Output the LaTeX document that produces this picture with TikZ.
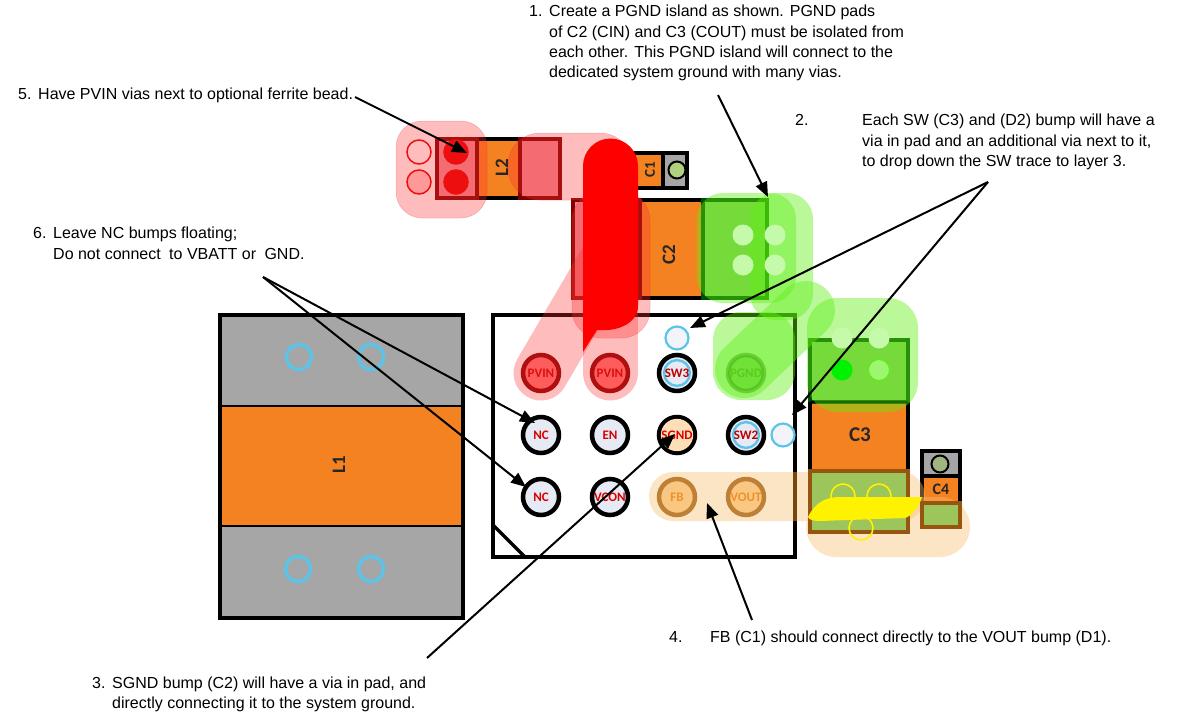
\documentclass[tikz,border=0pt]{standalone}
\usepackage{fontspec}
\setmainfont{Liberation Sans}
\newfontfamily\padfont{Carlito}
\usetikzlibrary{arrows.meta}
\definecolor{chiporange}{HTML}{F58220}
\definecolor{chipgray}{HTML}{A6A6A6}
\definecolor{via}{HTML}{5CC4E8}
\definecolor{bumpfill}{HTML}{E6EAF4}
\definecolor{ovred}{HTML}{FF3030}
\definecolor{ovgreen}{HTML}{5CF010}
\definecolor{ovtan}{HTML}{F9C070}
\definecolor{brownpad}{HTML}{96560F}
\definecolor{grnpad}{HTML}{9CC55C}
\definecolor{pgndpad}{HTML}{8ACB5A}
\definecolor{redpad}{HTML}{F08890}
\newcommand{\hang}[1]{\makebox[20pt][l]{#1}}
\tikzset{
  note/.style={align=left,anchor=north west,inner sep=0pt,font=\fontsize{16}{20.3}\selectfont},
  chipo/.style={draw=black,line width=3.5pt,fill=chiporange},
  chipg/.style={draw=black,line width=3.5pt,fill=chipgray},
  thin sep/.style={draw=black,line width=2pt},
  chiplabel/.style={font=\padfont\bfseries\fontsize{19}{19}\selectfont,text=black!85,inner sep=0pt},
  chipsmall/.style={chiplabel,font=\padfont\bfseries\fontsize{15}{15}\selectfont},
  bump/.style={circle,minimum size=36pt,inner sep=0pt,draw=black,line width=4.5pt,fill=bumpfill,text=red!85!black,font=\padfont\bfseries\fontsize{13}{13}\selectfont},
  pvinbump/.style={bump,draw=red!55!black,fill=red!55!white,text=red!80!black},
  fbbump/.style={bump,draw=brownpad,fill=ovtan!80!white,text=orange!90!black},
  inner bump/.style={circle,minimum size=25pt,inner sep=0pt,draw=via,line width=2.4pt,fill=bumpfill,text=red!75!black,font=\padfont\bfseries\fontsize{13}{13}\selectfont},
  viac/.style={circle,minimum size=23pt,inner sep=0pt,draw=via,line width=2.2pt,fill=bumpfill!50!white},
  viab/.style={viac,minimum size=25pt,line width=3.5pt,fill=chipgray},
  viag/.style={circle,minimum size=21pt,inner sep=0pt,draw=none,fill=ovgreen!35!white},
  viar/.style={circle,minimum size=24pt,inner sep=0pt,draw=red!90!black,line width=1.5pt},
  viay/.style={circle,minimum size=24pt,inner sep=0pt,draw=yellow,line width=1.6pt},
  ovr/.style={fill=ovred,fill opacity=.32,draw=ovred!80!black,draw opacity=.25,line width=.5pt},
  ovg/.style={fill=ovgreen,fill opacity=.42},
  ovt/.style={fill=ovtan,fill opacity=.4},
  capr/.style={draw=ovred,draw opacity=.32,line cap=round,line width=55pt},
  capg/.style={draw=ovgreen,draw opacity=.42,line cap=round,line width=58pt},
  arr/.style={draw=black,line width=2pt,-{Triangle[length=15pt,width=12pt]}},
}
\begin{document}
\begin{tikzpicture}[x=1pt,y=-1pt]
\useasboundingbox (0,0) rectangle (1183,715);
\fill[white] (0,0) rectangle (1183,715);
% L1
\path[chipg] (220,315) rectangle (463,618);
\path[fill=chiporange] (220,406) rectangle (463,526);
\draw[thin sep] (220,406) -- (463,406) (220,526) -- (463,526);
\draw[black,line width=3.5pt] (220,315) rectangle (463,618);
\node[chiplabel,rotate=90] (l1) at (339,465) {L1};
\node[viab] (v1) at (299,357) {};
\node[viab] (v2) at (371,357) {};
\node[viab] (v3) at (298,569) {};
\node[viab] (v4) at (371,569) {};
% IC
\draw[black,line width=3.5pt,fill=white] (493,315) rectangle (795,557);
\draw[black,line width=3.5pt] (493,525) -- (525,557);
% C1
\path[chipo] (633,153) rectangle (687,188);
\path[fill=chipgray] (663,153) rectangle (687,188);
\draw[black,line width=3.5pt] (633,153) rectangle (687,188) (663,153) -- (663,188);
\node[chipsmall,rotate=90] (c1) at (650,170) {C1};
\node[circle,minimum size=17pt,inner sep=0pt,draw=black,line width=2pt,fill=grnpad!80!white] (c1v) at (677,170) {};
% C2
\path[chipo] (573,200) rectangle (767,298);
\node[chiplabel,rotate=90] (c2) at (669,255) {C2};
% C3
\path[chipo] (810,340) rectangle (908,532);
\node[chiplabel,font=\padfont\bfseries\fontsize{21}{21}\selectfont] (c3) at (860,435) {C3};
% C4
\path[chipo] (922,451) rectangle (960,527);
\path[fill=chipgray] (922,451) rectangle (960,476);
\draw[black,line width=3.5pt] (922,451) rectangle (960,527) (922,476) -- (960,476);
\node[chipsmall,font=\padfont\bfseries\fontsize{16}{16}\selectfont] (c4) at (941,489) {C4};
\node[circle,minimum size=17pt,inner sep=0pt,draw=black,line width=2pt,fill=grnpad!50!chipgray] (c4v) at (940,464) {};
% L2
\path[chipo] (437,139) rectangle (560,198);
\node[chiplabel,rotate=90] (l2) at (502,168) {L2};
% pads
\draw[draw=red!50!black,line width=3.5pt,fill=redpad] (437,139) rectangle (477,198);
\draw[draw=red!50!black,line width=3.5pt,fill=redpad] (520,139) rectangle (560,198);
\draw[draw=red!50!black,line width=3.5pt,fill=redpad] (573,200) rectangle (640,298);
\draw[draw=green!30!black,line width=3.5pt,fill=pgndpad] (703,200) rectangle (767,298);
\draw[draw=green!30!black,line width=3.5pt,fill=pgndpad] (810,340) rectangle (908,402);
\draw[black,line width=2pt] (810,402) -- (908,402) (810,471) -- (908,471);
\draw[black,line width=3.5pt] (810,402) -- (810,471) (908,402) -- (908,471);
% L2 vias
\node[viar] (lv1) at (419,152) {};
\node[viar,fill=red!20!white] (lv2) at (419,182) {};
\node[viar,fill=red!90!black,draw=red!90!black] (lv3) at (456,152) {};
\node[viar,fill=red!90!black,draw=red!90!black] (lv4) at (456,182) {};
% bumps
\node[pvinbump] (b11) at (541,373) {PVIN};
\node[pvinbump] (b12) at (610,373) {PVIN};
\node[bump] (b13) at (677,373) {};
\node[inner bump] (b13i) at (677,373) {SW3};
\node[bump] (b21) at (541,435) {NC};
\node[bump] (b22) at (610,435) {EN};
\node[bump] (b23) at (677,435) {};
\node[inner bump,draw=none,fill=ovtan!50!white,text=red!85!black] (b23i) at (677,435) {SGND};
\node[bump] (b24) at (746,435) {};
\node[inner bump] (b24i) at (746,435) {SW2};
\node[bump] (b31) at (541,497) {NC};
\node[bump] (b32) at (610,497) {VCON};
\node[fbbump] (b33) at (677,497) {FB};
\node[fbbump] (b34) at (746,497) {VOUT};
\node[viac] (sv1) at (677,338) {};
\node[viac] (sv2) at (783,435) {};
% red overlays
\path[ovr,rounded corners=26pt] (396,121) rectangle (487,218);
\path[ovr,rounded corners=32pt] (508,133) rectangle (632,200);
\path[ovr,rounded corners=28pt] (572,192) rectangle (650,338);
\draw[capr] (541,373) -- (610,255);
\draw[capr] (610,373) -- (610,300);
% big red trace
\fill[red] (583,352) -- (583,166) arc[start angle=180,end angle=360,radius=27.5] -- (638,306)
  .. controls (638,322) and (620,332) .. (597,330) -- cycle;
% green overlays
\path[ovg,rounded corners=26pt] (697,193) rectangle (796,303);
\path[ovg,rounded corners=26pt] (750,193) rectangle (813,320);
\path[ovg,rounded corners=28pt] (713,312) -- (795,312) -- (795,400) -- (713,400) -- cycle;
\draw[capg] (744,369) -- (806,310);
\path[ovg,rounded corners=30pt] (807,298) rectangle (918,412);
\node[bump,draw=ovgreen!60!black!70!ovgreen,fill=ovgreen!55!black!30!ovgreen,text=ovgreen!80!black,fill opacity=.5,draw opacity=.5,text opacity=.6] (b14) at (746,373) {PGND};
% green vias
\node[viag] (gv1) at (743,235) {};
\node[viag] (gv2) at (775,235) {};
\node[viag] (gv3) at (743,265) {};
\node[viag] (gv4) at (775,265) {};
\node[viag] (gv5) at (842,338) {};
\node[viag] (gv6) at (879,338) {};
\node[viag,fill=green!95!black] (gv7) at (842,370) {};
\node[viag,fill=ovgreen!60!white,draw=ovgreen,line width=1pt] (gv8) at (879,370) {};
% tan overlays
\path[ovt,rounded corners=24pt] (649,472) rectangle (925,521);
\path[ovt,rounded corners=30pt] (806,497) rectangle (970,557);
\draw[brownpad!80!black,line width=3.5pt] (795,473) -- (795,521);
% lower pads stay green above the tan overlay
\draw[draw=brownpad,line width=3.5pt,fill=grnpad] (810,471) rectangle (908,532);
\draw[draw=brownpad,line width=3.5pt,fill=grnpad] (922,503) rectangle (960,527);
% yellow trace
\fill[yellow] (808,517) .. controls (815,503) and (825,497) .. (840,497) -- (922,497)
  .. controls (920,505) and (912,516) .. (905,518) -- (820,521) .. controls (814,521) and (809,520) .. (808,517) -- cycle;
\node[viay] (yv1) at (843,496) {};
\node[viay] (yv2) at (879,496) {};
\node[viay] (yv3) at (861,528) {};
% notes
\node[note] (n1) at (529,5) {\hang{1.}Create a PGND island as shown. PGND pads\\\hspace{20pt}of C2 (CIN) and C3 (COUT) must be isolated from\\\hspace{20pt}each other. This PGND island will connect to the\\\hspace{20pt}dedicated system ground with many vias.};
\node[note] (n2) at (795,114) {\makebox[67pt][l]{2.}Each SW (C3) and (D2) bump will have a\\\hspace{67pt}via in pad and an additional via next to it,\\\hspace{67pt}to drop down the SW trace to layer 3.};
\node[note,anchor=south west] (n3) at (92,712) {\hang{3.}SGND bump (C2) will have a via in pad, and\\\hspace{20pt}directly connecting it to the system ground.};
\node[note] (n4) at (669,631) {\makebox[41pt][l]{4.}FB (C1) should connect directly to the VOUT bump (D1).};
\node[note] (n5) at (18,88) {\hang{5.}Have PVIN vias next to optional ferrite bead.};
\node[note] (n6) at (33,227) {\hang{6.}Leave NC bumps floating;\\\hspace{20pt}Do not connect\hspace{4pt} to VBATT or\hspace{4pt} GND.};
% connectors
\coordinate (s1) at (718,95);   \coordinate (t1) at (768,197);
\coordinate (s2) at (988,182);  \coordinate (t2a) at (690,328); \coordinate (t2b) at (792,415);
\coordinate (s3) at (427,658);  \coordinate (t3) at (675,434);
\coordinate (s4) at (752,620);  \coordinate (t4) at (707,503);
\coordinate (s5) at (355,97);   \coordinate (t5) at (467,153);
\coordinate (s6) at (263,277);  \coordinate (t6a) at (535,423); \coordinate (t6b) at (526,487);
\draw[arr] (s1) -- (t1);
\draw[arr] (s2) -- (t2a);
\draw[arr] (s2) -- (t2b);
\draw[arr] (s3) -- (t3);
\draw[arr] (s4) -- (t4);
\draw[arr] (s5) -- (t5);
\draw[arr] (s6) -- (t6a);
\draw[arr] (s6) -- (t6b);
\end{tikzpicture}
\end{document}
